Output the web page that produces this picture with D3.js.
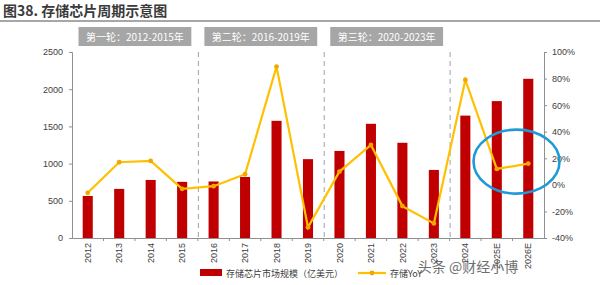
<!DOCTYPE html>
<html>
<head>
<meta charset="utf-8">
<script src="https://cdn.jsdelivr.net/npm/d3@7"></script>
<style>
body{margin:0;background:#fff;}
svg{display:block;font-family:"Noto Sans CJK SC","Noto Sans",sans-serif;}
</style>
</head>
<body>
<svg id="chart" width="600" height="285"></svg>
<script>
var years = ["2012","2013","2014","2015","2016","2017","2018","2019","2020","2021","2022","2023","2024","2025E","2026E"];
var market = [565,660,780,755,760,820,1575,1060,1170,1535,1280,915,1645,1840,2140];
var yoy = [-6,17,18,-3,-1,8,89,-32,10,30,-16,-29,79,12,16];
var leftTicks = [0,500,1000,1500,2000,2500];
var rightTicks = [-40,-20,0,20,40,60,80,100];
var rounds = [
    {label:"第一轮：2012-2015年", from:"2012", to:"2015"},
    {label:"第二轮：2016-2019年", from:"2016", to:"2019"},
    {label:"第三轮：2020-2023年", from:"2020", to:"2023"}
];
var dividers = ["2016","2020","2024"];

var svg = d3.select("#chart");
var pLeft = 72, pRight = 544, pTop = 52, pBottom = 238;

var x = d3.scaleBand().domain(years).range([pLeft, pRight]).paddingInner(0.68).paddingOuter(0.34);
var yL = d3.scaleLinear().domain([0,2500]).range([pBottom, pTop]);
var yR = d3.scaleLinear().domain([-40,100]).range([pBottom, pTop]);
var step = x.step();

// title
svg.append("text").attr("x",3).attr("y",16)
    .attr("font-size",14).attr("font-weight","bold").attr("fill","#3a3a3a")
    .text("图38. 存储芯片周期示意图");
svg.append("line").attr("x1",0).attr("x2",600).attr("y1",21).attr("y2",21)
    .attr("stroke","#8a8a8a").attr("stroke-width",1.6);

// round boxes
rounds.forEach(function(r){
    var x0 = x(r.from) - step*0.26, x1 = x(r.to) + x.bandwidth() + step*0.26;
    svg.append("rect").attr("x",x0+4).attr("y",27).attr("width",x1-x0-8).attr("height",19)
	.attr("fill","#a6a6a6");
    svg.append("text").attr("x",(x0+x1)/2).attr("y",40.5).attr("text-anchor","middle")
	.attr("font-size",10).attr("fill","#fff").text(r.label);
});

// dashed dividers
dividers.forEach(function(d){
    var xx = x(d) - step*0.34 + 0.5;
    svg.append("line").attr("x1",xx).attr("x2",xx).attr("y1",pTop).attr("y2",pBottom)
	.attr("stroke","#a0a0b0").attr("stroke-width",1).attr("stroke-dasharray","5,4");
});

// bars
svg.selectAll("rect.bar").data(market).enter().append("rect")
    .attr("class","bar")
    .attr("x",function(d,i){return x(years[i]);})
    .attr("y",function(d){return yL(d);})
    .attr("width",x.bandwidth())
    .attr("height",function(d){return pBottom - yL(d);})
    .attr("fill","#c00000");

// axes
var axL = svg.append("g").attr("transform","translate("+pLeft+",0)")
    .call(d3.axisLeft(yL).tickValues(leftTicks).tickSize(3).tickPadding(6)
	  .tickFormat(d3.format("d")));
var axR = svg.append("g").attr("transform","translate("+pRight+",0)")
    .call(d3.axisRight(yR).tickValues(rightTicks).tickSize(3).tickPadding(5)
	  .tickFormat(function(d){return d+"%";}));
var axB = svg.append("g").attr("transform","translate(0,"+pBottom+")")
    .call(d3.axisBottom(x).tickSize(0).tickPadding(4));
[axL,axR,axB].forEach(function(a){
    a.select(".domain").attr("stroke","#909090");
    a.selectAll(".tick line").attr("stroke","#909090");
    a.selectAll("text").attr("fill","#404040").attr("font-size",9)
	.attr("font-family","Liberation Sans, Arial, sans-serif");
});
axB.selectAll(".tick text")
    .attr("transform","rotate(-90)")
    .attr("text-anchor","end").attr("dy","0.35em")
    .attr("x",-5).attr("y",0);
// small separators on x axis
svg.selectAll("line.sep").data(years.slice(1)).enter().append("line")
    .attr("x1",function(d){return x(d)-step*0.34;})
    .attr("x2",function(d){return x(d)-step*0.34;})
    .attr("y1",pBottom).attr("y2",pBottom+3).attr("stroke","#909090");

// yoy line
var line = d3.line().x(function(d,i){return x(years[i])+x.bandwidth()/2;}).y(function(d){return yR(d);});
svg.append("path").datum(yoy).attr("d",line).attr("fill","none")
    .attr("stroke","#ffc000").attr("stroke-width",2.2);
svg.selectAll("circle.pt").data(yoy).enter().append("circle")
    .attr("class","pt")
    .attr("cx",function(d,i){return x(years[i])+x.bandwidth()/2;})
    .attr("cy",function(d){return yR(d);})
    .attr("r",2.4).attr("fill","#f0a800");

// highlight ellipse
svg.append("ellipse")
    .attr("cx",(x("2025E")+x("2026E"))/2+x.bandwidth()/2+4).attr("cy",yR(16)-2)
    .attr("rx",43).attr("ry",32)
    .attr("fill","none").attr("stroke","#1e9ad6").attr("stroke-width",2.6);

// legend
var lg = svg.append("g").attr("transform","translate(200,273)");
lg.append("rect").attr("x",0).attr("y",-4).attr("width",22).attr("height",7).attr("fill","#c00000");
lg.append("text").attr("x",26).attr("y",3.5).attr("font-size",9).attr("fill","#404040")
    .text("存储芯片市场规模（亿美元）");
lg.append("line").attr("x1",158).attr("x2",186).attr("y1",0).attr("y2",0)
    .attr("stroke","#ffc000").attr("stroke-width",2.2);
lg.append("circle").attr("cx",172).attr("cy",0).attr("r",2.4).attr("fill","#f0a800");
lg.append("text").attr("x",190).attr("y",3.5).attr("font-size",9).attr("fill","#404040")
    .text("存储YoY");

// watermark
svg.append("text").attr("x",468).attr("y",272).attr("text-anchor","middle")
    .attr("font-size",14).attr("fill","#555").attr("opacity",0.85)
    .text("头条 @财经小博");
</script>
</body>
</html>
